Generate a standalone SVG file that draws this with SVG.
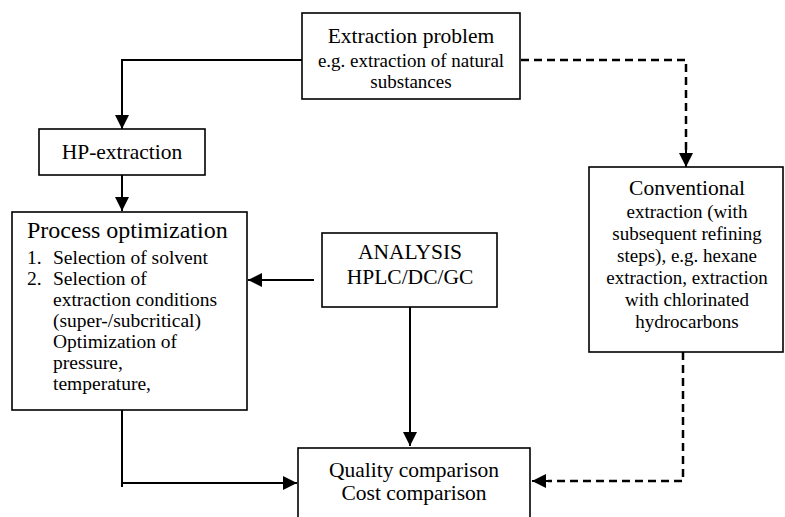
<svg xmlns="http://www.w3.org/2000/svg" width="785" height="517" viewBox="0 0 785 517">
<style>
.box{fill:#fff;stroke:#000;stroke-width:1.6}
.t{font-family:"Liberation Serif","Times New Roman",serif;fill:#000}
.l{font-size:21.5px}
.s{font-size:19px}
.q{font-size:19.5px}
.p{font-size:24px}
.c{stroke:#000;stroke-width:2;fill:none}
.d{stroke:#000;stroke-width:2.5;fill:none;stroke-dasharray:8 5}
</style>
<defs>
<marker id="ah" markerUnits="userSpaceOnUse" markerWidth="14" markerHeight="14" viewBox="0 0 14 14" refX="14" refY="7" orient="auto">
<path d="M0,0 L14,7 L0,14 Z" fill="#000"/>
</marker>
</defs>
<g id="connectors">
<polyline class="c" points="302,60 122,60 122,129" marker-end="url(#ah)"/>
<line class="c" x1="122" y1="175" x2="122" y2="211" marker-end="url(#ah)"/>
<line class="c" x1="314" y1="280" x2="248" y2="280" marker-end="url(#ah)"/>
<line class="c" x1="410" y1="307" x2="410" y2="446" marker-end="url(#ah)"/>
<polyline class="c" points="122,410 122,487"/>
<line class="c" x1="122" y1="483" x2="297" y2="483" marker-end="url(#ah)"/>
<polyline class="d" points="521,60 686,60 686,152"/>
<line class="c" x1="686" y1="150" x2="686" y2="167" marker-end="url(#ah)"/>
<polyline class="d" points="683,352 683,481 548,481"/>
<line class="c" x1="549" y1="481" x2="532" y2="481" marker-end="url(#ah)"/>
</g>
<g id="extraction-problem">
<rect class="box" x="302" y="13" width="218" height="86"/>
<text class="t l" x="411" y="43" text-anchor="middle">Extraction problem</text>
<text class="t s" x="411" y="67" text-anchor="middle">e.g. extraction of natural</text>
<text class="t s" x="411" y="88" text-anchor="middle">substances</text>
</g>
<g id="hp-extraction">
<rect class="box" x="39" y="129" width="166" height="46"/>
<text class="t l" x="122" y="159" text-anchor="middle">HP-extraction</text>
</g>
<g id="process-optimization">
<rect class="box" x="12" y="212" width="235" height="198"/>
<text class="t p" x="27" y="238">Process optimization</text>
<text class="t q" x="27" y="264">1.</text>
<text class="t q" x="53" y="264">Selection of solvent</text>
<text class="t q" x="27" y="285">2.</text>
<text class="t q" x="53" y="285">Selection of</text>
<text class="t q" x="53" y="306">extraction conditions</text>
<text class="t q" x="53" y="327">(super-/subcritical)</text>
<text class="t q" x="53" y="348">Optimization of</text>
<text class="t q" x="53" y="369">pressure,</text>
<text class="t q" x="53" y="390">temperature,</text>
</g>
<g id="analysis">
<rect class="box" x="322" y="233" width="175" height="74"/>
<text class="t l" x="410" y="259" text-anchor="middle">ANALYSIS</text>
<text class="t l" x="410" y="284" text-anchor="middle">HPLC/DC/GC</text>
</g>
<g id="conventional-extraction">
<rect class="box" x="589" y="167" width="194" height="185"/>
<text class="t l" x="687" y="195" text-anchor="middle">Conventional</text>
<text class="t s" x="687" y="218" text-anchor="middle">extraction (with</text>
<text class="t s" x="687" y="240" text-anchor="middle">subsequent refining</text>
<text class="t s" x="687" y="262" text-anchor="middle">steps), e.g. hexane</text>
<text class="t s" x="687" y="284" text-anchor="middle">extraction, extraction</text>
<text class="t s" x="687" y="306" text-anchor="middle">with chlorinated</text>
<text class="t s" x="687" y="328" text-anchor="middle">hydrocarbons</text>
</g>
<g id="comparison">
<rect class="box" x="298" y="448" width="232" height="80"/>
<text class="t l" x="414" y="477" text-anchor="middle">Quality comparison</text>
<text class="t l" x="414" y="500" text-anchor="middle">Cost comparison</text>
</g>
</svg>
